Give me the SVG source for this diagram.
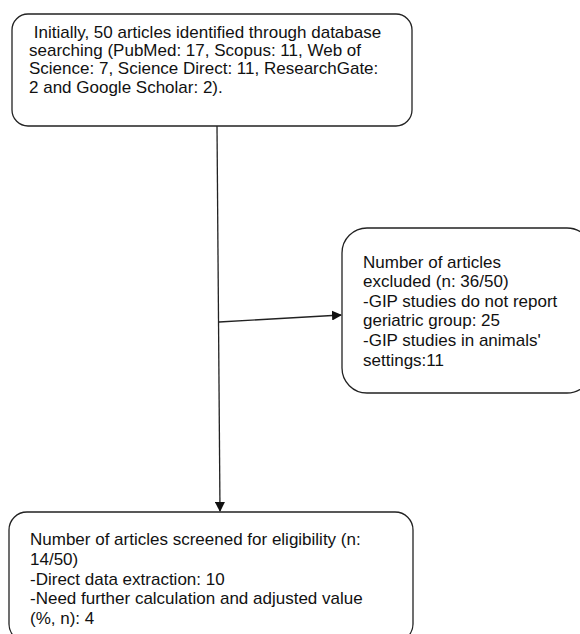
<svg xmlns="http://www.w3.org/2000/svg" width="580" height="634" viewBox="0 0 580 634">
<style>
.box{fill:#fff;stroke:#222;stroke-width:1.3}
.t{font-family:"Liberation Sans",Arial,sans-serif;font-size:17px;fill:#111}
.c{stroke:#222;stroke-width:1.3;fill:none}
</style>
<defs>
<marker id="ah" markerWidth="10" markerHeight="10" refX="9" refY="5" orient="auto" markerUnits="userSpaceOnUse">
<path d="M0,0 L10,5 L0,10 z" fill="#111"/>
</marker>
</defs>
<rect width="580" height="634" fill="#fff"/>
<g id="connectors">
<path class="c" d="M217,126 L220,511" marker-end="url(#ah)"/>
<path class="c" d="M219,322 L341,315" marker-end="url(#ah)"/>
</g>
<g id="n1">
<rect class="box" x="12" y="14" width="400" height="112" rx="16"/>
<text class="t" x="29" y="38" xml:space="preserve"> Initially, 50 articles identified through database</text>
<text class="t" x="29" y="56">searching (PubMed: 17, Scopus: 11, Web of</text>
<text class="t" x="29" y="74">Science: 7, Science Direct: 11, ResearchGate:</text>
<text class="t" x="29" y="93">2 and Google Scholar: 2).</text>
</g>
<g id="n2">
<rect class="box" x="342" y="228" width="250" height="165" rx="25"/>
<text class="t" x="363" y="268">Number of articles</text>
<text class="t" x="363" y="287">excluded (n: 36/50)</text>
<text class="t" x="363" y="307">-GIP studies do not report</text>
<text class="t" x="363" y="326">geriatric group: 25</text>
<text class="t" x="363" y="346">-GIP studies in animals'</text>
<text class="t" x="363" y="366">settings:11</text>
</g>
<g id="n3">
<rect class="box" x="9" y="512" width="404" height="130" rx="18"/>
<text class="t" x="30" y="545">Number of articles screened for eligibility (n:</text>
<text class="t" x="30" y="565">14/50)</text>
<text class="t" x="30" y="585">-Direct data extraction: 10</text>
<text class="t" x="30" y="604">-Need further calculation and adjusted value</text>
<text class="t" x="30" y="624">(%, n): 4</text>
</g>
</svg>
